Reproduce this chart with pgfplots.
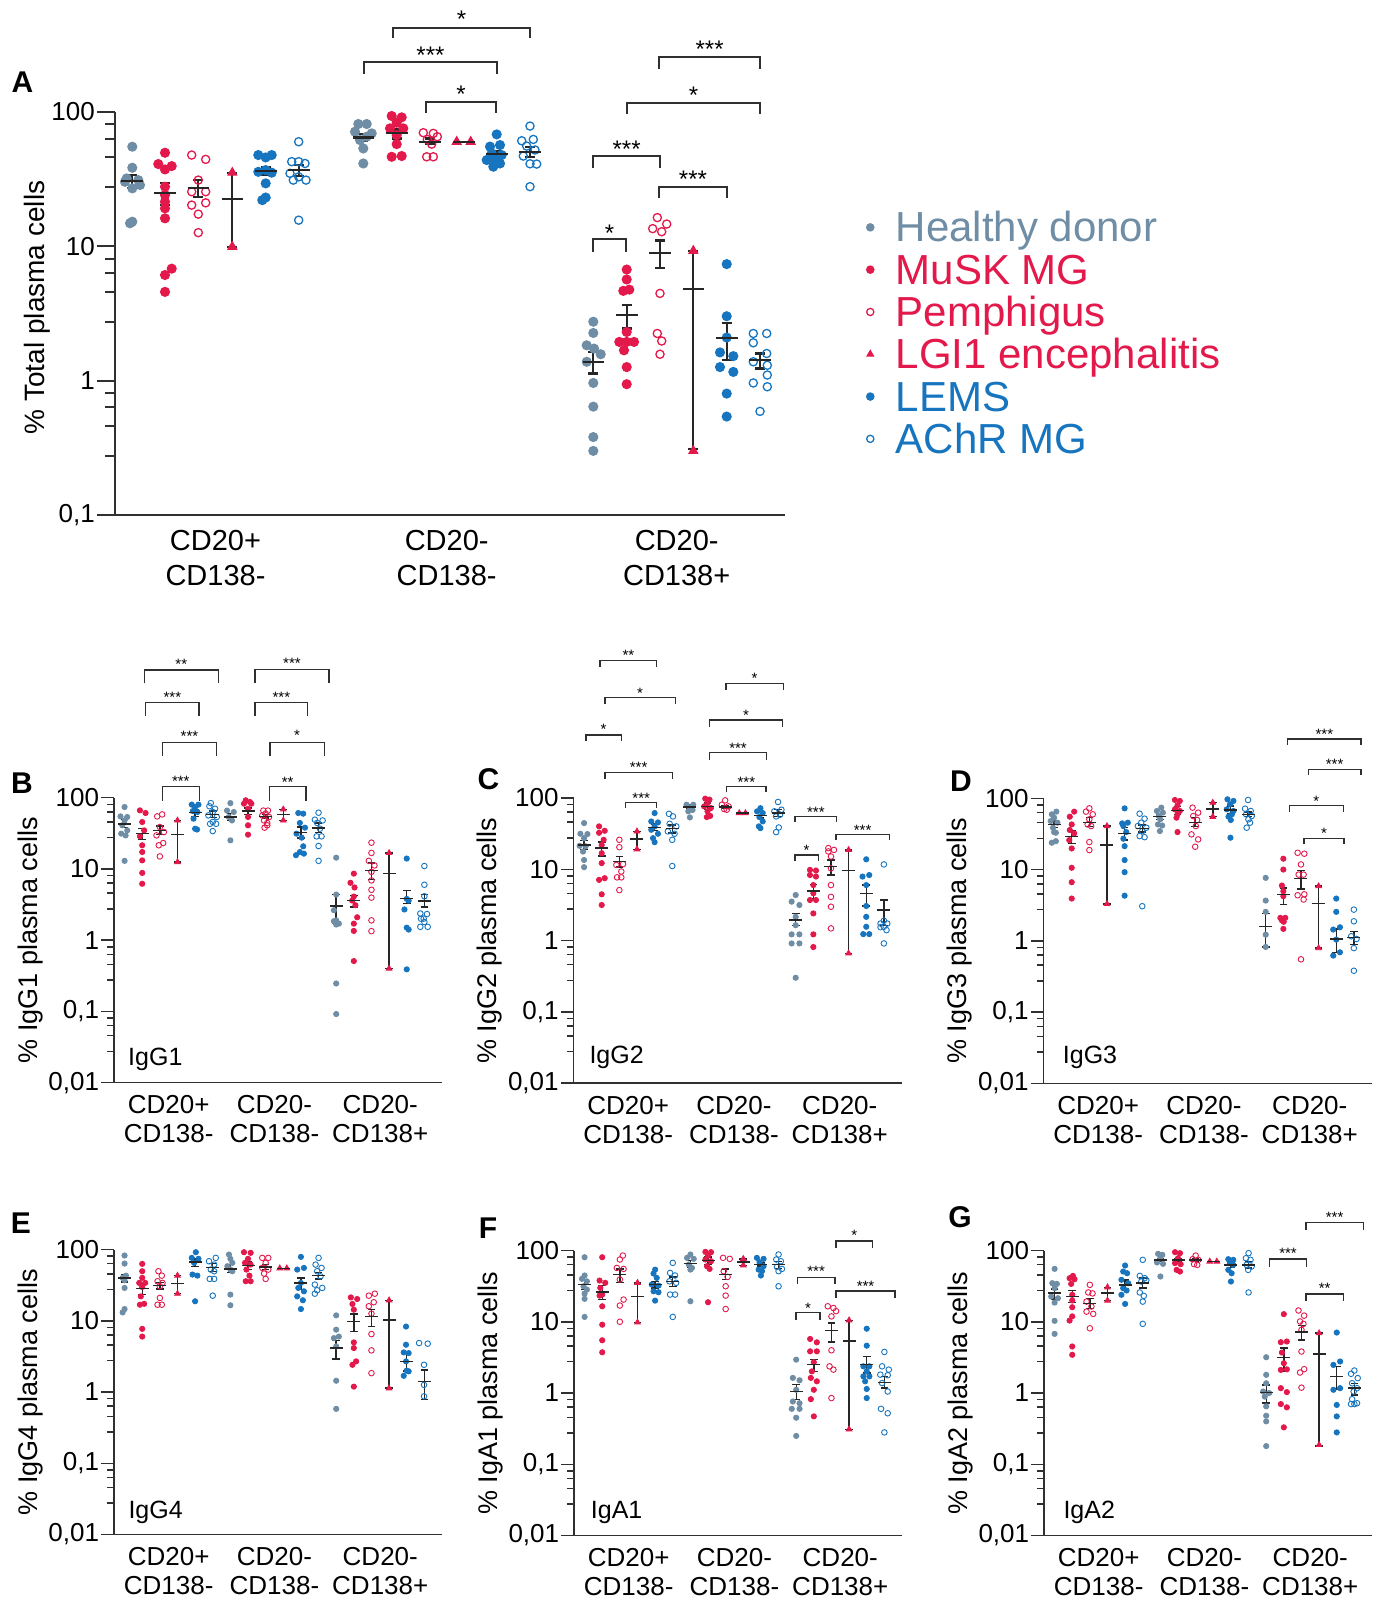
\documentclass[border=0pt]{standalone}
\usepackage{fontspec}
\setmainfont{Liberation Sans}
\usepackage{pgfplots}
\pgfplotsset{compat=1.18}
\definecolor{hd}{HTML}{6F8EA5}
\definecolor{mr}{HTML}{E3194B}
\definecolor{mb}{HTML}{1675BE}
\definecolor{ax}{HTML}{303030}
\newcommand\fA{\fontsize{29}{35}\selectfont}
\newcommand\fAy{\fontsize{26}{28}\selectfont}
\newcommand\fS{\fontsize{26}{29}\selectfont}
\newcommand\fL{\fontsize{42}{42.3}\selectfont}
\pgfplotsset{
 sHD/.style={only marks, mark=*, color=hd, mark size=#1},
 sMu/.style={only marks, mark=*, color=mr, mark size=#1},
 sPe/.style={only marks, mark=o, color=mr, mark size=#1},
 sLG/.style={only marks, mark=triangle*, color=mr, mark size=#1},
 sLE/.style={only marks, mark=*, color=mb, mark size=#1},
 sAC/.style={only marks, mark=o, color=mb, mark size=#1},
}
\pgfplotsset{scale only axis, axis x line*=bottom, axis y line*=left, clip=false,
   tick align=outside, xtick style={draw=none},
   width=328pt, height=285pt, xmin=-0.6, xmax=18, ymin=0.01, ymax=100,
   axis line style={line width=1.5pt, draw=ax}, tick style={line width=1.5pt, color=ax},
   major tick length=12.7pt, minor tick length=7pt,
   xtick={2.5,8.5,14.5}, xticklabels={{CD20+\\CD138-},{CD20-\\CD138-},{CD20-\\CD138+}},
   xticklabel style={align=center, font=\fS, inner sep=0pt},
   ytick={0.01,0.1,1,10,100}, yticklabels={{0,01},{0,1},1,10,100},
   minor ytick={0.0275,0.0457,0.0632,0.0809,0.275,0.457,0.632,0.809,2.75,4.57,6.32,8.09,27.5,45.7,63.2,80.9},
   yticklabel style={font=\fS, inner sep=2pt},
   every axis y label/.style={at={(axis description cs:-0.256,0.5)}, rotate=90, anchor=center, font=\fontsize{27}{30}\selectfont},
   every axis plot/.append style={line width=0.9pt}}
\newcommand\brA[6]{\draw[line width=1.9pt, ax] (#1,#4) -- (#1,#3) -- (#2,#3) -- (#2,#4);
  \node[font=\fontsize{24}{24}\selectfont, anchor=base, inner sep=0pt] at ({(#1+#2)/2},{#5+13.9}) {#6};}
\newcommand\brS[6]{\draw[line width=1.1pt, ax] (#1,#4) -- (#1,#3) -- (#2,#3) -- (#2,#4);
  \node[font=\fontsize{15}{15}\selectfont, anchor=base, inner sep=0pt] at ({(#1+#2)/2},{#5+8.7}) {#6};}
\begin{document}
\begin{tikzpicture}
\useasboundingbox (0pt,0pt) rectangle (1381pt,-1603pt);
% ---------------- Panel A ----------------
\begin{semilogyaxis}[at={(115pt,-515pt)}, anchor=south west, width=670pt, height=403.3pt,
  xmin=115, xmax=785, ymin=0.1, ymax=100,
  axis line style={line width=2pt}, tick style={line width=2pt},
  major tick length=18pt, minor tick length=9.5pt,
  xtick={215.5,446.7,676.7},
  xticklabel style={font=\fA}, xticklabel shift=-3pt,
  ytick={0.1,1,10,100}, yticklabels={{0,1},1,10,100},
  minor ytick={0.275,0.457,0.632,0.809,2.75,4.57,6.32,8.09,27.5,45.7,63.2,80.9},
  yticklabel style={font=\fAy},
  ylabel={\% Total plasma cells},
  every axis y label/.style={at={(axis description cs:-0.116,0.5145)}, rotate=90, anchor=center, font=\fontsize{28}{30}\selectfont},
  every axis plot/.append style={line width=1.3pt},
  legend style={at={(axis description cs:1.1216,0.7513)}, anchor=north west, draw=none, fill=none,
    inner sep=0pt, nodes={inner sep=0pt, text height=29.6pt, text depth=12.7pt}, column sep=22pt, row sep=0pt, font=\fL, cells={anchor=west}},
  legend image post style={mark size=3.6, yshift=6pt},
]
\addplot[sHD=4.4] coordinates {(132.3,54.9)(132.3,38.3)(126.7,31.9)(138.3,31)(140,28.5)(125,30.1)(132.3,26.9)(132.3,15.2)(130,14.8)
 (358.3,81)(366.7,81)(355,71)(371.7,69)(360,61.5)(363.3,53.3)(363.3,41.2)(366.7,65.2)
 (593.3,2.74)(593.3,2.26)(586.7,1.83)(594,1.73)(600.7,1.57)(586.7,1.38)(593.3,0.96)(593.3,0.64)(593.3,0.38)(593.3,0.30)};
\addlegendentry{\textcolor{hd}{Healthy donor}}
\addplot[sMu=4.4] coordinates {(165,49.5)(158.3,40.8)(171.7,39.4)(165,37.2)(165,27.7)(165,24)(165,21.4)(165,19.1)(165,16.1)(171.7,6.8)(165,6.1)(165,4.57)
 (391.7,92.9)(401.7,90.8)(396.7,82.8)(390,75.2)(403.3,75.2)(396.7,67)(396.7,57.4)(391.7,46.2)(401.7,46.8)
 (626.7,6.7)(626.7,5.65)(623.3,4.65)(629.3,4.75)(626.7,2.3)(619.3,1.94)(626.7,1.94)(634,1.94)(624,1.68)(626.7,1.26)(626.7,0.94)};
\addlegendentry{\textcolor{mr}{MuSK MG}}
\addplot[sPe=4.1] coordinates {(191.7,47.6)(205.7,44.2)(198.3,31)(205.7,25.4)(191.7,25.4)(191.7,20.2)(205.7,21)(198.3,17.3)(198.3,12.6)
 (423.3,69.8)(433.3,69)(437.3,65.2)(427.3,62.2)(431.7,57.4)(426.7,46.2)(433.3,46.2)
 (657.3,16.3)(652.7,13.5)(666.7,14.6)(661.7,12.8)(660,4.45)(657.3,2.24)(661.7,1.97)(660,1.57)};
\addlegendentry{\textcolor{mr}{Pemphigus}}
\addplot[sLG=4.8] coordinates {(232.3,35.2)(232.3,9.9)(456.7,59.8)(470.7,59.8)(693.3,9.23)(693.3,0.30)};
\addlegendentry{\textcolor{mr}{LGI1 encephalitis}}
\addplot[sLE=4.4] coordinates {(258.3,47.6)(271.7,47.6)(265.7,45.7)(265.7,36.8)(258.3,35.7)(271.7,35.2)(265.7,29.3)(265.7,23)(262.3,22)
 (496.7,67.8)(490,55)(500,56.5)(491.7,49)(501.7,47.6)(495,44.2)(486.7,43.7)(493.3,39)(500,41.2)
 (726.7,7.35)(726.7,3.01)(726.7,2.09)(720,1.62)(733.3,1.52)(720,1.26)(733.3,1.16)(726.7,0.8)(726.7,0.54)};
\addlegendentry{\textcolor{mb}{LEMS}}
\addplot[sAC=4.1] coordinates {(298.7,59.8)(291.7,42.5)(305,41.2)(298.7,42.5)(290,34.8)(298.7,32.8)(306,31)(293.3,31)(298.7,15.6)
 (530,78.2)(521.7,60.8)(533.3,62.2)(526.7,55.5)(535,51.9)(523.3,46.8)(536.7,40.8)(530,41)(530,27.7)
 (753.3,2.24)(766.7,2.24)(753.3,1.91)(766.7,1.59)(753.3,1.38)(767.3,1.3)(767.3,1.1)(753.3,0.96)(767.3,0.9)(760,0.59)};
\addlegendentry{\textcolor{mb}{AChR MG}}
\addplot[black!85, only marks, mark=-, mark size=10.8, mark options={line width=2.2pt}, forget plot,
   error bars/.cd, y dir=both, y explicit, error bar style={line width=2.2pt, black!85},
   error mark options={rotate=90, line width=2.2pt, mark size=5, black!85}] coordinates {
 (132.3,30.5) += (0,3.3) -= (0,3.6)
 (165,24.7) += (0,4.6) -= (0,4.5)
 (198.3,27.2) += (0,3.8) -= (0,3.9)
 (232.3,22.55) += (0,12.65) -= (0,12.65)
 (265.7,36.4) += (0,2.1) -= (0,2.6)
 (298.7,36.8) += (0,3.3) -= (0,3.4)
 (363.3,64.4) += (0,3.8) -= (0,3.6)
 (396.7,69) += (0,4.8) -= (0,5.7)
 (430,59.8) += (0,3.5) -= (0,2.4)
 (463.7,59.8) += (0,0) -= (0,0)
 (496.7,48.4) += (0,2.9) -= (0,2.7)
 (530,50.4) += (0,4.5) -= (0,4.2)
 (593.3,1.38) += (0,0.26) -= (0,0.25)
 (626.7,3.06) += (0,0.58) -= (0,0.62)
 (660,8.9) += (0,2.1) -= (0,2.0)
 (693.3,4.77) += (0,4.46) -= (0,4.46)
 (726.7,2.06) += (0,0.63) -= (0,0.63)
 (760,1.42) += (0,0.17) -= (0,0.19)};
\end{semilogyaxis}
% ---------------- Panel B ----------------
\begin{semilogyaxis}[at={(114pt,-1082.7pt)}, anchor=south west, ylabel={\% IgG1 plasma cells}]
\addplot[sHD=2.6] coordinates {(0,74)(-0.23,54.7)(0.15,53.6)(0,48)(-0.13,41)(0.15,34.8)(-0.19,31.3)(0.06,29.6)(0,13)
 (6,84)(5.81,66)(6.19,63)(5.91,53.6)(6.09,48)(6,25.2)
 (12,14.4)(12,4.37)(11.87,2.64)(11.87,1.85)(12.15,1.71)(12,1.66)(12,1.9)(12,0.247)(12,0.092)};
\addplot[sMu=2.6] coordinates {(0.87,66.4)(1.19,61)(1,45.6)(1.11,34.8)(0.87,28.7)(1,21.5)(1,17.3)(1,13.2)(1,8.8)(1,6.2)
 (6.87,92)(7.11,87)(6.77,82.4)(7.19,82.4)(7,70)(7,53.6)(7,41)(7,30.3)
 (13,8.6)(12.81,6.4)(13.04,5.5)(13,4.1)(12.91,3.6)(13.09,3.1)(13.19,2.1)(13,1.71)(13,1.35)(13,0.51)};
\addplot[sPe=2.8] coordinates {(1.85,54.7)(2.13,58.3)(2,38.8)(2.23,33)(1.81,29.6)(2.19,23.1)(1.94,21.5)(2,15)
 (7.87,66)(8.13,66)(8,59.7)(7.81,56.5)(8.19,53.6)(7.91,48)(8.09,44.2)(7.94,38)(8.09,41)
 (14,23.4)(14,16.8)(13.85,13)(14.17,11.2)(14,9.1)(14,6.9)(14,5.1)(14,3.96)(14,1.9)(14,1.34)};
\addplot[sLG=3.2] coordinates {(3,48)(3,12.5)(9,68.6)(9,48)(15,16.8)(15,0.4)};
\addplot[sLE=2.6] coordinates {(3.81,80)(4.19,80)(4,74)(3.87,65)(4.13,63)(3.91,50.8)(4,36.7)(4.11,35.8)
 (9.85,61)(10.13,59.7)(9.94,44.2)(10.23,38)(9.75,31.3)(10.04,27.5)(10.13,20.8)(9.94,17.3)(9.72,15.6)(10.17,16.4)
 (16,14)(16,3.8)(16.11,3.6)(15.87,2.7)(16,1.5)(16.11,1.41)(16,0.39)};
\addplot[sAC=2.8] coordinates {(4.89,84)(4.81,76)(5.13,70)(5,63)(4.75,56.5)(5.23,53.6)(5,45.6)(4.85,43)(5.19,43)(5,34)
 (11,61.6)(10.79,49.2)(11.23,48)(10.92,44.2)(11.08,36.7)(10.89,28.7)(11.17,28.7)(11,21)(11,13)
 (17,11)(17,6)(17,4.14)(16.77,2.37)(17.15,2.33)(16.96,2.01)(16.77,1.54)(17.19,1.54)(17,1.8)(16.81,2.0)};
\addplot[black!85, only marks, mark=-, mark size=6.5, mark options={line width=1.4pt},
   error bars/.cd, y dir=both, y explicit, error bar style={line width=1.4pt, black!85},
   error mark options={rotate=90, line width=1.4pt, mark size=3.8, black!85}] coordinates {
 (0,43) += (0,6.7) -= (0,5) (1,31.3) += (0,5.4) -= (0,5.5) (2,34.8) += (0,5.2) -= (0,4.2)
 (3,30.25) += (0,17.75) -= (0,17.75) (4,61.6) += (0,6.4) -= (0,6.9) (5,58.3) += (0,6.7) -= (0,5.8)
 (6,53.6) += (0,6.1) -= (0,5.6) (7,65) += (0,6.6) -= (0,6.7) (8,54.7) += (0,3.6) -= (0,2.8)
 (9,58.3) += (0,10.3) -= (0,10.3) (10,32.3) += (0,6.5) -= (0,5.1) (11,37.6) += (0,6.6) -= (0,5.3)
 (12,3.03) += (0,1.37) -= (0,1.28) (13,3.64) += (0,0.64) -= (0,0.71) (14,9.6) += (0,2.5) -= (0,2.5)
 (15,8.6) += (0,8.2) -= (0,8.2) (16,3.84) += (0,1.16) -= (0,0.57) (17,3.56) += (0,0.84) -= (0,0.63)};
\end{semilogyaxis}
% ---------------- Panel C ----------------
\begin{semilogyaxis}[at={(573.5pt,-1083pt)}, anchor=south west, ylabel={\% IgG2 plasma cells}]
\addplot[sHD=2.6] coordinates {(0,44.5)(-0.21,31.5)(0.19,31.2)(0,27.3)(-0.25,21.3)(0.09,21)(-0.06,17.7)(0,13.5)(0,10.7)
 (5.81,80.5)(6.19,80.5)(6,72.3)(5.91,65)(6,53.4)(6.15,68)
 (12,4.35)(11.77,3.51)(12.21,3.15)(12,2.15)(12,1.64)(11.77,1.22)(12.21,1.22)(11.77,0.91)(12.21,0.91)(12,0.3)};
\addplot[sMu=2.6] coordinates {(0.85,40)(1.17,34.7)(0.85,32.5)(1.11,25.9)(1,21.9)(1,16.8)(1,12.2)(0.85,7.1)(1.17,7.5)(1,4.45)(1,3.15)
 (6.87,98)(7.11,95)(7,85)(6.81,76.3)(7.19,72.3)(7,65)(6.96,54)(7.15,56)
 (12.81,9.8)(13.15,9.6)(12.81,8.3)(13.15,7.9)(13,6.0)(13,4.6)(12.81,3.7)(13.15,3.7)(13,2.4)(13,1.22)(13,0.81)};
\addplot[sPe=2.8] coordinates {(2,25.9)(2,20.4)(1.83,11.5)(2.21,11.8)(2.11,9.3)(1.87,7.7)(2.11,7.7)(2,5.1)
 (8,92.7)(7.81,80.5)(8.19,76.3)(7.94,70)(8.09,68.5)
 (13.85,19.8)(14.17,18.7)(14,15.1)(14,10.3)(14,6.0)(14,4.1)(14,2.98)(14,1.48)(13.85,17.8)};
\addplot[sLG=3.2] coordinates {(3,34)(3,19.1)(8.8,61.5)(9.15,61.5)(15,18.7)(15,0.66)};
\addplot[sLE=2.6] coordinates {(4,61.5)(3.81,46.9)(4.19,45.5)(4,40)(3.81,35.8)(4.19,31.5)(3.91,27.3)(4,24)
 (10,72)(9.81,65)(10.13,61.5)(9.94,54)(10.13,47)(9.91,40)(10,37.8)
 (16,13.8)(15.79,7.9)(16.17,8.3)(16,6)(16,3.05)(16,2.15)(16,1.56)(15.83,1.23)(16.17,1.23)};
\addplot[sAC=2.8] coordinates {(4.81,60)(5.04,55.2)(4.85,43.5)(5.23,40)(4.75,34)(5.13,31.5)(5,25.9)(5,11.1)
 (11,88)(11.19,68.5)(10.79,65)(11.11,58.2)(10.89,55.2)(11.04,38.6)(10.89,33.2)
 (17,11.7)(16.81,1.73)(17.19,1.73)(17,1.56)(16.81,1.54)(17.15,1.4)(17,0.91)(17,1.9)};
\addplot[black!85, only marks, mark=-, mark size=6.5, mark options={line width=1.4pt},
   error bars/.cd, y dir=both, y explicit, error bar style={line width=1.4pt, black!85},
   error mark options={rotate=90, line width=1.4pt, mark size=3.8, black!85}] coordinates {
 (0,22) += (0,3.3) -= (0,2.9) (1,19.8) += (0,4.2) -= (0,4.4) (2,12.8) += (0,2.3) -= (0,2.1)
 (3,26.55) += (0,7.45) -= (0,7.45) (4,38.6) += (0,4.4) -= (0,3.9) (5,37) += (0,5) -= (0,4.9)
 (6,74.7) += (0,5.8) -= (0,4.7) (7,76.3) += (0,8.7) -= (0,7.8) (8,74.7) += (0,3) -= (0,3)
 (9,61.5) += (0,0) -= (0,0) (10,57) += (0,5.8) -= (0,4.7) (11,61.5) += (0,7) -= (0,6.3)
 (12,1.93) += (0,0.47) -= (0,0.29) (13,4.95) += (0,1.2) -= (0,1.05) (14,10.9) += (0,2.6) -= (0,2.6)
 (15,9.68) += (0,9.02) -= (0,9.02) (16,4.6) += (0,1.4) -= (0,1.55) (17,2.67) += (0,1.03) -= (0,1.03)};
\end{semilogyaxis}
% ---------------- Panel D ----------------
\begin{semilogyaxis}[at={(1043.5pt,-1083.3pt)}, anchor=south west, ylabel={\% IgG3 plasma cells}]
\addplot[sHD=2.6] coordinates {(0.13,65)(-0.13,59.6)(0,53.5)(-0.19,48)(0.19,45.5)(-0.06,38.7)(0.1,32.9)(-0.13,23.8)(0.1,25)(0,33.5)
 (6.08,74)(5.83,66.4)(6.17,63)(5.94,56.4)(6.02,50.7)(5.89,43)(6.13,41.5)(6,34.7)
 (12,7.65)(12,3.67)(12,2.55)(12,1.22)(12,0.82)};
\addplot[sMu=2.6] coordinates {(1.14,65)(0.89,55.2)(1,43)(0.89,35.9)(1.14,32.2)(0.86,25.9)(1,19.8)(1,10.6)(1,6.65)(1,3.92)
 (6.85,94.8)(7.13,91.8)(7,79.8)(6.85,70)(7.13,66.4)(7,59.6)(6.94,53.5)(7,33.6)
 (13,14.2)(13,10)(12.92,5.97)(13,4.97)(13,4.23)(12.83,2.1)(13.11,2.1)(12.92,1.94)(13.02,1.85)(13,1.47)};
\addplot[sPe=2.8] coordinates {(2,72.3)(1.81,65)(2.19,59.6)(2,50.7)(1.9,43)(2.1,40.8)(2,24.3)(2,18.8)
 (7.85,74)(8.17,62.9)(7.89,56.4)(8.11,49.6)(8.04,40.8)(7.79,31.2)(8.17,26.5)(8,20.9)
 (13.81,17.2)(14.19,16.7)(14,11.8)(13.87,8.5)(14.15,8.5)(13.81,4.36)(14.19,4.5)(14.15,3.8)(14,0.55)};
\addplot[sLG=3.2] coordinates {(3,40.8)(3,3.3)(9,86.9)(9,55.2)(15,5.85)(15,0.79)};
\addplot[sLE=2.6] coordinates {(4,72.3)(3.86,44.5)(4.18,45.5)(3.93,40.8)(4.09,33.6)(3.93,27.1)(4,21.3)(4,13.6)(4,9.2)(4,4.3)
 (9.83,96.8)(10.17,91.8)(9.98,82.4)(9.79,70)(10.17,66.4)(10.08,59.6)(9.89,55.2)(10.02,49.6)(10,28)
 (16,3.92)(16,2.55)(15.83,1.44)(16.21,1.55)(16,1.04)(15.83,0.62)(16.21,0.69)};
\addplot[sAC=2.8] coordinates {(4.85,60.8)(5.13,51.8)(4.94,45.5)(4.75,40.8)(5.23,38.7)(5,34.7)(4.85,29.5)(5.13,28.5)(5,3.06)
 (11,94.8)(10.83,71.6)(11.15,66.4)(10.89,59.6)(11.21,56.4)(11.02,50.7)(11.11,45.5)(10.92,38.7)
 (17,2.74)(17,1.88)(16.85,1.16)(17.15,1.06)(17,0.79)(17,0.38)};
\addplot[black!85, only marks, mark=-, mark size=6.5, mark options={line width=1.4pt},
   error bars/.cd, y dir=both, y explicit, error bar style={line width=1.4pt, black!85},
   error mark options={rotate=90, line width=1.4pt, mark size=3.8, black!85}] coordinates {
 (0,43) += (0,5) -= (0,4.3) (1,28.9) += (0,5.8) -= (0,5.6) (2,45.5) += (0,8) -= (0,5.5)
 (3,22.05) += (0,18.75) -= (0,18.75) (4,32.2) += (0,6.5) -= (0,6.3) (5,37.8) += (0,4.4) -= (0,4.2)
 (6,55.2) += (0,4.4) -= (0,4.5) (7,67.8) += (0,8.6) -= (0,8.2) (8,45.5) += (0,8) -= (0,5.5)
 (9,71.05) += (0,15.85) -= (0,15.85) (10,68.5) += (0,9.5) -= (0,7) (11,59.6) += (0,4.6) -= (0,4.4)
 (12,1.6) += (0,0.81) -= (0,0.78) (13,4.46) += (0,1.07) -= (0,1.23) (14,7.5) += (0,2.2) -= (0,2.14)
 (15,3.32) += (0,2.53) -= (0,2.53) (16,1.06) += (0,0.41) -= (0,0.37) (17,1.12) += (0,0.24) -= (0,0.24)};
\end{semilogyaxis}
% ---------------- Panel E ----------------
\begin{semilogyaxis}[at={(114pt,-1534.5pt)}, anchor=south west, ylabel={\% IgG4 plasma cells}]
\addplot[sHD=2.6] coordinates {(0,82.4)(0,63.5)(0.08,43)(-0.11,40)(0,37)(0,28.9)(0,14.6)(-0.11,13.1)
 (5.92,85)(6,74)(6.11,65)(5.83,58.3)(6,52.3)(6.11,49.6)(6,23.3)(6,16.5)
 (12,11.9)(12,7.5)(11.87,5.71)(12.15,6.0)(12,4.37)(12,1.44)(12,0.58)};
\addplot[sMu=2.6] coordinates {(1,62.9)(1,49.6)(1,40)(0.83,34)(1.17,34)(1,29.8)(0.92,22)(0.87,16.8)(1.11,17.3)(1,7.7)(1,6.0)
 (6.77,91.7)(7.15,89.8)(7,74)(6.83,65)(7.15,61.5)(6.91,52.3)(7.08,43)(6.87,35.9)(7.15,35.9)
 (12.83,21.3)(13.19,20.2)(12.92,17.2)(13,14.3)(13,4.97)(13,4.14)(13.13,2.69)(12.92,2.41)(13,1.19)};
\addplot[sPe=2.8] coordinates {(1.92,49.6)(2.11,43)(1.87,35.9)(2.15,34)(2,30.5)(2,20.9)(1.87,16.8)(2.11,16.8)
 (7.81,76.3)(8.15,76.3)(8,65)(7.81,55.2)(8.15,52.3)(7.91,46)(8,38.7)
 (13.85,22.5)(14.19,24)(14.13,18.2)(13.85,16)(14,12.6)(14,6.5)(14,3.84)(14,1.84)};
\addplot[sLG=3.2] coordinates {(3,43)(3,24)(8.8,54.6)(9.2,54.6)(15,19.4)(15,1.13)};
\addplot[sLE=2.6] coordinates {(4.04,91.7)(3.81,76.3)(4.19,74)(3.94,65)(3.85,44.5)(4.13,43)(4,18.8)
 (10,78.9)(9.79,52.3)(10.17,55.2)(10,34)(9.85,28.9)(10.17,25.9)(9.79,22)(10.11,19.4)(10,14.6)
 (15.96,8.3)(15.96,4.61)(15.83,3.6)(16.11,3.52)(15.96,2.69)(16,2.0)(15.83,1.69)(16.11,1.95)};
\addplot[sAC=2.8] coordinates {(5.17,76.3)(4.79,68.5)(5.08,61.5)(4.89,52.3)(5.08,49.6)(4.83,38.7)(5.08,38.7)(5,22.5)
 (11,76.3)(10.83,61.5)(11.17,55.2)(10.92,49.6)(11.11,42)(10.79,32.2)(11.21,28.9)(10.92,26.8)(10.79,24)
 (16.7,4.87)(17.19,4.77)(16.98,2.41)(16.98,1.26)(16.98,0.87)};
\addplot[black!85, only marks, mark=-, mark size=6.5, mark options={line width=1.4pt},
   error bars/.cd, y dir=both, y explicit, error bar style={line width=1.4pt, black!85},
   error mark options={rotate=90, line width=1.4pt, mark size=3.8, black!85}] coordinates {
 (0,40) += (0,4.5) -= (0,5) (1,28.3) += (0,5) -= (0,5) (2,31.5) += (0,3.2) -= (0,3.5)
 (3,33.5) += (0,9.5) -= (0,9.5) (4,66.4) += (0,7.6) -= (0,8.1) (5,56.4) += (0,7.1) -= (0,6.8)
 (6,53.5) += (0,8) -= (0,5.5) (7,60.2) += (0,6.8) -= (0,7.9) (8,57) += (0,4.5) -= (0,4.7)
 (9,54.6) += (0,0) -= (0,0) (10,34) += (0,6) -= (0,6.7) (11,43) += (0,5) -= (0,4.3)
 (12,4.14) += (0,1.16) -= (0,1.24) (13,9.8) += (0,2.7) -= (0,2.7) (14,11.5) += (0,2.8) -= (0,3.2)
 (15,10.27) += (0,9.13) -= (0,9.13) (16,2.69) += (0,0.83) -= (0,0.71) (17,1.41) += (0,0.64) -= (0,0.62)};
\end{semilogyaxis}
% ---------------- Panel F ----------------
\begin{semilogyaxis}[at={(574pt,-1535.5pt)}, anchor=south west, ylabel={\% IgA1 plasma cells}]
\addplot[sHD=2.6] coordinates {(0,80.5)(0,44.6)(-0.15,40)(0.13,37)(-0.06,31.5)(0.13,28.3)(0,24.9)(0,21)(0,11.7)
 (6,87.9)(5.81,78.9)(6.19,76.4)(5.91,63.6)(6.09,57)(6,54)(6,19.4)
 (12,2.94)(11.81,1.63)(12.19,1.51)(12,1.11)(11.81,0.76)(12.19,0.72)(11.75,0.6)(12.19,0.6)(12,0.45)(12,0.25)};
\addplot[sMu=2.6] coordinates {(1,80.5)(0.85,37.9)(1.17,35.2)(0.89,29.9)(1,24.1)(0.85,23.3)(1,16.5)(1,9.1)(1,5.5)(1,3.73)
 (6.85,95.8)(7.17,94.8)(7,85)(6.85,74.8)(7.17,70.8)(6.94,60.3)(7.09,55.2)(7,18.8)
 (12.79,5.74)(13.17,5.15)(12.79,3.85)(13.17,3.85)(13,2.7)(12.89,2.01)(12.83,1.63)(13.17,1.46)(13,1.11)(12.83,0.82)(13,0.47)};
\addplot[sPe=2.8] coordinates {(2.17,85)(2,74.8)(1.83,57)(2.21,55.2)(2,39.2)(2.21,20.5)(2,16.9)(2,10)
 (7.85,78.9)(8.23,76.4)(7.89,51.3)(8.11,42.7)(8,31.5)(8,23.3)(8,15.1)
 (13.79,16.5)(14.11,15.6)(14.26,14.1)(14,11.9)(14,3.98)(13.89,2.37)(14.11,2.13)(14,0.85)};
\addplot[sLG=3.2] coordinates {(3,35.2)(3,9.8)(9,76.4)(9,62.2)(15,10.5)(15,0.31)};
\addplot[sLE=2.6] coordinates {(4,54)(3.91,47.5)(4.09,41.3)(3.81,33.3)(4.19,32.2)(3.91,26.8)(4.19,26)(4,19.8)
 (9.77,78.9)(10.15,76.4)(9.92,68.6)(10.15,60.3)(9.87,54)(10.06,51.3)(10,44.6)
 (16,8.0)(16,4.62)(15.81,2.37)(16.15,2.37)(16,2.01)(15.81,1.71)(16.15,1.71)(15.91,1.46)(16,1.14)(16,0.85)};
\addplot[sAC=2.8] coordinates {(5,67.1)(4.85,48.5)(5.13,44.6)(4.81,37)(5.19,35.2)(4.85,24.1)(5.13,24.1)(5,11.7)
 (11,87.9)(10.87,74.8)(11.13,70.8)(10.91,58.9)(11.19,55.2)(11,51.3)(11,31.5)
 (17,3.77)(16.87,2.37)(17.25,2.13)(16.77,1.81)(17.19,1.78)(16.87,1.38)(17.19,1.05)(16.81,0.6)(17.19,0.52)(17,0.28)};
\addplot[black!85, only marks, mark=-, mark size=6.5, mark options={line width=1.4pt},
   error bars/.cd, y dir=both, y explicit, error bar style={line width=1.4pt, black!85},
   error mark options={rotate=90, line width=1.4pt, mark size=3.8, black!85}] coordinates {
 (0,33.3) += (0,5.9) -= (0,5) (1,26.3) += (0,5.9) -= (0,5.8) (2,46) += (0,9.2) -= (0,10.1)
 (3,22.5) += (0,12.7) -= (0,12.7) (4,33.3) += (0,3.7) -= (0,3.4) (5,37) += (0,5.7) -= (0,5.5)
 (6,65.6) += (0,7.5) -= (0,6.7) (7,73.1) += (0,8.4) -= (0,9.5) (8,46) += (0,9.2) -= (0,6.8)
 (9,69.3) += (0,7.1) -= (0,7.1) (10,63.6) += (0,3.5) -= (0,3.3) (11,63.6) += (0,7.2) -= (0,7.7)
 (12,1.05) += (0,0.26) -= (0,0.245) (13,2.5) += (0,0.44) -= (0,0.49) (14,7.6) += (0,2) -= (0,2.4)
 (15,5.4) += (0,5.09) -= (0,5.09) (16,2.5) += (0,0.77) -= (0,0.59) (17,1.41) += (0,0.3) -= (0,0.23)};
\end{semilogyaxis}
% ---------------- Panel G ----------------
\begin{semilogyaxis}[at={(1044pt,-1535.5pt)}, anchor=south west, ylabel={\% IgA2 plasma cells}]
\addplot[sHD=2.6] coordinates {(0,55.3)(-0.13,34.8)(0.13,34)(0,29.6)(-0.19,22.6)(0.19,21.4)(0,18.6)(0,10.3)(0,6.76)
 (5.87,89.8)(6.11,86.9)(6,78)(5.81,68)(6.15,65)(6,43.2)
 (12,3.18)(12,1.8)(12,1.37)(11.83,1.05)(12.17,1.0)(11.92,0.89)(12,0.65)(12,0.48)(12,0.4)(12,0.18)};
\addplot[sMu=2.6] coordinates {(1.04,44.1)(0.85,40.9)(1.13,39.6)(0.94,34)(1,23.9)(1,19.9)(1,16)(1,11.9)(0.85,10.4)(1,4.5)(1,3.44)
 (6.83,94.8)(7.11,91.8)(7,78)(6.83,66.5)(7.15,64.3)(6.92,53.5)(7.11,50.7)
 (13,12.8)(12.83,5.17)(13.17,5.28)(12.89,3.7)(13,2.62)(12.83,2.11)(13.17,2.15)(12.83,1.17)(13.17,1.03)(12.83,0.7)(13.17,0.63)(13,0.33)};
\addplot[sPe=2.8] coordinates {(2,33)(1.91,25.8)(2.15,25)(1.81,19.2)(2.09,16.4)(1.81,13.9)(2.19,12.9)(2,8.1)
 (8,85)(7.83,75.6)(8.15,74)(7.91,64.3)(8.09,62.9)
 (13.83,14.4)(14.15,12.2)(13.92,10.1)(14.11,9.35)(14,7.7)(14,3.82)(14.15,2.16)(13.92,1.94)(14,1.19)};
\addplot[sLG=3.2] coordinates {(3,30.5)(3,19.9)(8.8,70.1)(9.2,70.1)(15,6.92)(15,0.187)};
\addplot[sLE=2.6] coordinates {(4,61.6)(3.89,50.7)(4.11,48)(3.79,38.8)(4.17,34.8)(3.89,29.6)(4.08,27.5)(3.79,23.9)(4,17.8)
 (9.85,75.6)(10.13,74)(9.94,66.5)(10.13,62.9)(9.85,53.5)(10.04,48)(10,36.7)
 (16,7.06)(15.81,2.48)(16.19,2.77)(15.81,1.11)(16.19,1.17)(16,0.68)(16,0.47)(16,0.28)};
\addplot[sAC=2.8] coordinates {(5,74)(4.83,44.1)(5.11,40.9)(4.92,36.7)(5.2,38.5)(4.83,25.8)(5.06,23.1)(5,19.2)(5,9.35)
 (11,91.8)(10.85,78)(11.11,74)(10.89,62.9)(11.17,59.6)(10.98,53.5)(11,25.8)
 (17,2.07)(16.81,1.86)(17.19,1.62)(16.87,1.37)(17.15,1.17)(16.96,1.05)(16.87,0.82)(17.15,0.72)(17,0.7)(16.81,0.7)};
\addplot[black!85, only marks, mark=-, mark size=6.5, mark options={line width=1.4pt},
   error bars/.cd, y dir=both, y explicit, error bar style={line width=1.4pt, black!85},
   error mark options={rotate=90, line width=1.4pt, mark size=3.8, black!85}] coordinates {
 (0,25.2) += (0,3.8) -= (0,4.2) (1,22.6) += (0,4.9) -= (0,3.8) (2,18.2) += (0,3.2) -= (0,2.7)
 (3,25.2) += (0,5.3) -= (0,5.3) (4,33) += (0,5.8) -= (0,4.3) (5,34.8) += (0,6.1) -= (0,5.2)
 (6,74) += (0,4) -= (0,3.9) (7,74) += (0,4) -= (0,3.9) (8,74) += (0,2.5) -= (0,2.5)
 (9,70.1) += (0,0) -= (0,0) (10,62.9) += (0,5.1) -= (0,4.6) (11,62.9) += (0,7.2) -= (0,6.4)
 (12,1.02) += (0,0.28) -= (0,0.3) (13,3.15) += (0,1.11) -= (0,1.1) (14,7.15) += (0,1.65) -= (0,1.57)
 (15,3.55) += (0,3.37) -= (0,3.37) (16,1.71) += (0,0.65) -= (0,0.6) (17,1.17) += (0,0.2) -= (0,0.23)};
\end{semilogyaxis}
% ---------------- annotations ----------------
\begin{scope}[x=1pt,y=-1pt]
\node[font=\bfseries\fontsize{30}{30}\selectfont, inner sep=0pt] at (22.5,82) {A};
\node[font=\bfseries\fontsize{30}{30}\selectfont, inner sep=0pt] at (22,783) {B};
\node[font=\bfseries\fontsize{30}{30}\selectfont, inner sep=0pt] at (488.5,779) {C};
\node[font=\bfseries\fontsize{30}{30}\selectfont, inner sep=0pt] at (961,781) {D};
\node[font=\bfseries\fontsize{30}{30}\selectfont, inner sep=0pt] at (21,1223) {E};
\node[font=\bfseries\fontsize{30}{30}\selectfont, inner sep=0pt] at (488,1228) {F};
\node[font=\bfseries\fontsize{30}{30}\selectfont, inner sep=0pt] at (960,1217) {G};
\node[font=\fontsize{25}{25}\selectfont, anchor=base west, inner sep=0pt] at (128,1065) {IgG1};
\node[font=\fontsize{25}{25}\selectfont, anchor=base west, inner sep=0pt] at (589.3,1063.3) {IgG2};
\node[font=\fontsize{25}{25}\selectfont, anchor=base west, inner sep=0pt] at (1062.7,1063.3) {IgG3};
\node[font=\fontsize{25}{25}\selectfont, anchor=base west, inner sep=0pt] at (128.3,1518.3) {IgG4};
\node[font=\fontsize{25}{25}\selectfont, anchor=base west, inner sep=0pt] at (590.7,1518.3) {IgA1};
\node[font=\fontsize{25}{25}\selectfont, anchor=base west, inner sep=0pt] at (1063.3,1518.3) {IgA2};
\brA{393.3}{530}{27.7}{38.3}{14}{*}
\brA{364.3}{496.7}{62}{74}{49.3}{***}
\brA{426}{496}{101.7}{113.3}{89}{*}
\brA{659.3}{760}{57.3}{69}{44}{***}
\brA{627.3}{760}{103.3}{114.3}{89.3}{*}
\brA{593.3}{660}{156}{168.3}{143.3}{***}
\brA{659.3}{726.7}{187.3}{198.3}{173.3}{***}
\brA{593.3}{626}{239.3}{251.7}{227.3}{*}
\brS{144.3}{218.3}{670}{683.3}{661}{**}
\brS{145.7}{199}{702.7}{716}{693.3}{***}
\brS{162.3}{216.7}{742.7}{756}{732.7}{***}
\brS{162.3}{199.3}{786.7}{800.7}{777.3}{***}
\brS{255}{329}{669.3}{682.7}{660}{***}
\brS{255}{307.7}{702.7}{716}{694}{***}
\brS{270}{324.3}{742.7}{756}{731.7}{*}
\brS{269.3}{306}{786.7}{800.7}{778.3}{**}
\brS{600}{656.7}{660.7}{666.7}{651.7}{**}
\brS{605}{675.3}{697.7}{704.3}{689.3}{*}
\brS{586}{621.3}{735}{741}{726}{*}
\brS{605}{672.3}{772.7}{779.3}{764}{***}
\brS{625.7}{656.7}{802.7}{808.3}{794.3}{***}
\brS{726}{783.3}{683.3}{690}{675}{*}
\brS{709.3}{782.7}{720}{726.7}{711.7}{*}
\brS{709.3}{766.7}{752.7}{760}{744.7}{***}
\brS{726.7}{766}{786.7}{792.3}{779}{***}
\brS{795}{836.7}{816.7}{821.7}{808.3}{***}
\brS{836}{889.3}{834.3}{840}{826.3}{***}
\brS{795}{818.3}{855}{861}{846.7}{*}
\brS{1287.7}{1361}{739}{745}{730.7}{***}
\brS{1308.3}{1361}{769.3}{775}{761}{***}
\brS{1289.3}{1343.3}{805.7}{811.7}{797.3}{*}
\brS{1304}{1344}{838.3}{844.3}{830}{*}
\brS{836}{872.7}{1241}{1247.7}{1231.7}{*}
\brS{797.3}{835}{1277.3}{1284.3}{1268}{***}
\brS{836}{895}{1291}{1297.7}{1282.3}{***}
\brS{796}{820}{1312.7}{1320}{1304.3}{*}
\brS{1306}{1363.3}{1222.7}{1230}{1213.3}{***}
\brS{1269.3}{1306.7}{1259}{1266.7}{1250}{***}
\brS{1306}{1343.3}{1294}{1300.7}{1285}{**}
\end{scope}
\end{tikzpicture}
\end{document}
